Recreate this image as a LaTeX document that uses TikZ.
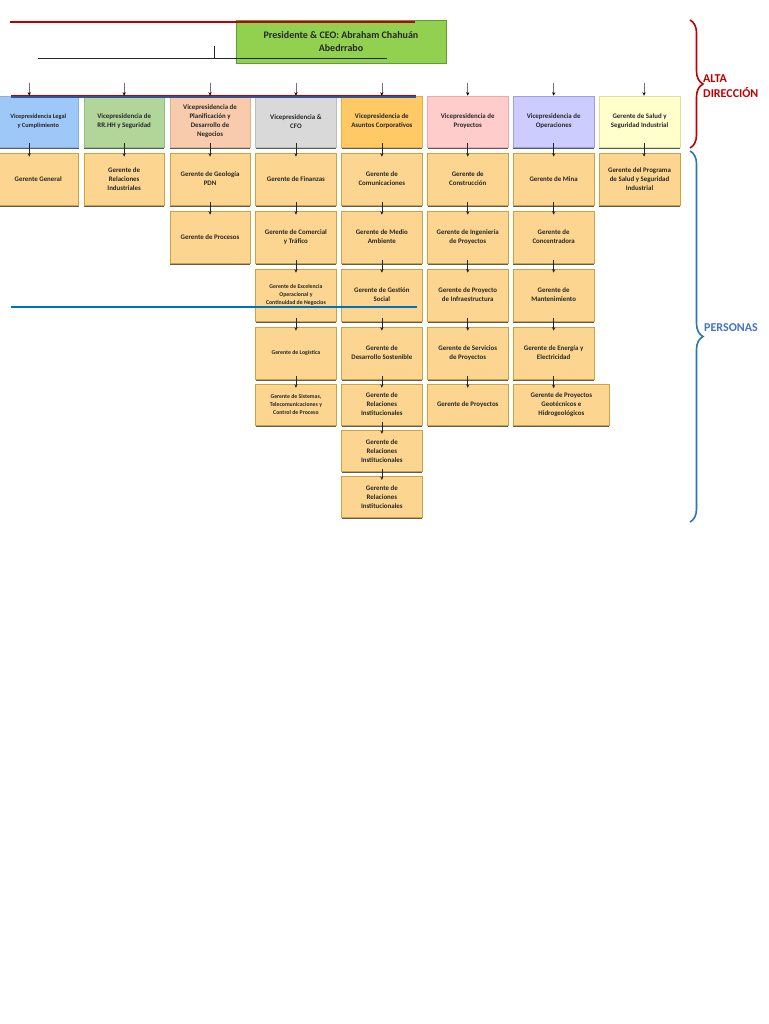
\documentclass[tikz,border=0pt]{standalone}
\usepackage{fontspec}
\setmainfont{Carlito}
\usepackage{xcolor}
\definecolor{ceofill}{HTML}{92D050}
\definecolor{ceoborder}{HTML}{5E9E2F}
\definecolor{legalfill}{HTML}{9DC8F8}
\definecolor{legalborder}{HTML}{86B2E0}
\definecolor{rrhhfill}{HTML}{B2D69A}
\definecolor{rrhhborder}{HTML}{93C078}
\definecolor{planfill}{HTML}{F8CBAD}
\definecolor{planborder}{HTML}{E2AE8C}
\definecolor{cfofill}{HTML}{D9D9D9}
\definecolor{cfoborder}{HTML}{BDBDBD}
\definecolor{corpfill}{HTML}{FFC966}
\definecolor{corpborder}{HTML}{E8AE45}
\definecolor{proyfill}{HTML}{FFCCCC}
\definecolor{proyborder}{HTML}{EFA9A9}
\definecolor{operfill}{HTML}{CCCCFF}
\definecolor{operborder}{HTML}{9E9EE6}
\definecolor{saludfill}{HTML}{FFFFCC}
\definecolor{saludborder}{HTML}{E3DC93}
\definecolor{gerfill}{HTML}{FCD690}
\definecolor{gerborder}{HTML}{C9A43F}
\definecolor{shadowcolor}{HTML}{5C5C5C}
\definecolor{altared}{HTML}{C00000}
\definecolor{personasblue}{HTML}{2E75B6}
\definecolor{personastext}{HTML}{4472C4}
\definecolor{linkblue}{HTML}{0070C0}
\definecolor{barblue}{HTML}{2F5597}
\definecolor{textdark}{HTML}{262626}
\usepackage{tikz}
\usetikzlibrary{positioning,arrows.meta,shadows,decorations.pathreplacing}
\newcommand{\gerfont}{\fontsize{6.9}{9}\selectfont\bfseries}
\newcommand{\gersmall}{\fontsize{5.8}{8}\selectfont\bfseries}
\tikzset{
    vpbox/.style={
        rectangle,
        text=textdark,
        minimum height=51pt,
        minimum width=80.5pt,
        inner sep=1pt,
        align=center,
        line width=0.6pt,
        font=\gerfont,
        drop shadow={shadow xshift=0pt, shadow yshift=-1.6pt, fill=shadowcolor, opacity=1},
    },
    gerbox/.style={
        rectangle,
        draw=gerborder,
        fill=gerfill,
        text=textdark,
        minimum height=52pt,
        minimum width=80.5pt,
        inner sep=1pt,
        align=center,
        line width=0.6pt,
        font=\gerfont,
        drop shadow={shadow xshift=0pt, shadow yshift=-1.6pt, fill=shadowcolor, opacity=1},
    },
    lowbox/.style={
        gerbox,
        minimum height=41pt,
    },
    ceobox/.style={
        rectangle,
        draw=ceoborder,
        fill=ceofill,
        text=textdark,
        minimum height=43pt,
        minimum width=210pt,
        align=center,
        line width=0.8pt,
        font=\fontsize{10}{12.5}\selectfont\bfseries,
    },
    arr/.style={
        -{Stealth[length=3.5pt,width=3.2pt]},
        line width=0.6pt,
        black!85,
    },
    toparr/.style={
        -{Stealth[length=3.5pt,width=3.2pt,black]},
        line width=0.6pt,
        black!55,
    },
    bracket/.style={
        decorate,
        decoration={brace, amplitude=13pt},
        line width=1.6pt,
    },
    grouplabel/.style={
        anchor=west,
        inner sep=0pt,
        align=left,
        font=\fontsize{12}{15}\selectfont\bfseries,
    },
}

\begin{document}
\begin{tikzpicture}[x=1pt, y=-1pt, node distance=5.4pt]
    \useasboundingbox[fill=white] (0,0) rectangle (768,1024);

    % President
    \node[ceobox] (ceo) at (341,41.5) {Presidente \& CEO: Abraham Chahuán\\Abedrrabo};

    % Lines across the top
    \coordinate (redl) at (10,22);
    \coordinate (redr) at (415,22);
    \coordinate (blackl) at (38,58);
    \coordinate (blackr) at (387,58);
    \coordinate (ticktop) at (214,46);
    \coordinate (tickbot) at (214,58);
    \draw[altared, line width=1.3pt] (redl) -- (redr);
    \draw[black!85, line width=0.8pt] (blackl) -- (blackr);
    \draw[black!85, line width=0.8pt] (ticktop) -- (tickbot);

    % Vicepresidencias
    \node[vpbox, fill=legalfill, draw=legalborder, font=\fontsize{6.3}{8.6}\selectfont\bfseries] (vp1) at (38.25,121.5) {Vicepresidencia Legal\\y Cumplimiento};
    \node[vpbox, fill=rrhhfill, draw=rrhhborder, right=4.8pt of vp1] (vp2) {Vicepresidencia de\\RR.HH y Seguridad};
    \node[vpbox, fill=planfill, draw=planborder, right=4.8pt of vp2] (vp3) {Vicepresidencia de\\Planificación y\\Desarrollo de\\Negocios};
    \node[vpbox, fill=cfofill, draw=cfoborder, right=4.8pt of vp3] (vp4) {Vicepresidencia \&\\CFO};
    \node[vpbox, fill=corpfill, draw=corpborder, right=4.8pt of vp4] (vp5) {Vicepresidencia de\\Asuntos Corporativos};
    \node[vpbox, fill=proyfill, draw=proyborder, right=4.8pt of vp5] (vp6) {Vicepresidencia de\\Proyectos};
    \node[vpbox, fill=operfill, draw=operborder, right=4.8pt of vp6] (vp7) {Vicepresidencia de\\Operaciones};
    \node[vpbox, fill=saludfill, draw=saludborder, right=4.8pt of vp7] (vp8) {Gerente de Salud y\\Seguridad Industrial};

    % Bar over the first five
    \coordinate (barl) at (11,97.2);
    \coordinate (barr) at (416,97.2);
    \coordinate (barredl) at (11,95.4);
    \coordinate (barredr) at (416,95.4);
    \draw[barblue, line width=2.6pt] (barl) -- (barr);
    \draw[altared, line width=0.7pt] (barredl) -- (barredr);

    % Gerencias, column by column
    \node[gerbox, below=of vp1] (g1a) {Gerente General};

    \node[gerbox, below=of vp2] (g2a) {Gerente de\\Relaciones\\Industriales};

    \node[gerbox, below=of vp3] (g3a) {Gerente de Geología\\PDN};
    \node[gerbox, below=of g3a] (g3b) {Gerente de Procesos};

    \node[gerbox, below=of vp4] (g4a) {Gerente de Finanzas};
    \node[gerbox, below=of g4a] (g4b) {Gerente de Comercial\\y Tráfico};
    \node[gerbox, below=of g4b, font=\gersmall] (g4c) {Gerente de Excelencia\\Operacional y\\Continuidad de Negocios};
    \node[gerbox, below=of g4c, font=\gersmall] (g4d) {Gerente de Logística};
    \node[lowbox, below=4.5pt of g4d, font=\gersmall] (g4e) {Gerente de Sistemas,\\Telecomunicaciones y\\Control de Proceso};

    \node[gerbox, below=of vp5] (g5a) {Gerente de\\Comunicaciones};
    \node[gerbox, below=of g5a] (g5b) {Gerente de Medio\\Ambiente};
    \node[gerbox, below=of g5b] (g5c) {Gerente de Gestión\\Social};
    \node[gerbox, below=of g5c] (g5d) {Gerente de\\Desarrollo Sostenible};
    \node[lowbox, below=4.5pt of g5d] (g5e) {Gerente de\\Relaciones\\Institucionales};
    \node[lowbox, below=4.5pt of g5e] (g5f) {Gerente de\\Relaciones\\Institucionales};
    \node[lowbox, below=4.5pt of g5f] (g5g) {Gerente de\\Relaciones\\Institucionales};

    \node[gerbox, below=of vp6] (g6a) {Gerente de\\Construcción};
    \node[gerbox, below=of g6a] (g6b) {Gerente de Ingeniería\\de Proyectos};
    \node[gerbox, below=of g6b] (g6c) {Gerente de Proyecto\\de Infraestructura};
    \node[gerbox, below=of g6c] (g6d) {Gerente de Servicios\\de Proyectos};
    \node[lowbox, below=4.5pt of g6d] (g6e) {Gerente de Proyectos};

    \node[gerbox, below=of vp7] (g7a) {Gerente de Mina};
    \node[gerbox, below=of g7a] (g7b) {Gerente de\\Concentradora};
    \node[gerbox, below=of g7b] (g7c) {Gerente de\\Mantenimiento};
    \node[gerbox, below=of g7c] (g7d) {Gerente de Energía y\\Electricidad};
    \node[lowbox, minimum width=96pt, anchor=north west] (g7e) at ([yshift=-5pt]g7d.south west) {Gerente de Proyectos\\Geotécnicos e\\Hidrogeológicos};

    \node[gerbox, below=of vp8] (g8a) {Gerente del Programa\\de Salud y Seguridad\\Industrial};

    % Blue line across the middle
    \coordinate (midl) at (11,307);
    \coordinate (midr) at (417,307);
    \draw[linkblue, line width=1.5pt] (midl) -- (midr);

    % Arrows into the vicepresidencias
    \draw[toparr] ([xshift=-9pt,yshift=13pt]vp1.north) -- ([xshift=-9pt]vp1.north);
    \draw[toparr] ([yshift=13pt]vp2.north) -- (vp2.north);
    \draw[toparr] ([yshift=13pt]vp3.north) -- (vp3.north);
    \draw[toparr] ([yshift=13pt]vp4.north) -- (vp4.north);
    \draw[toparr] ([yshift=13pt]vp5.north) -- (vp5.north);
    \draw[toparr] ([yshift=13pt]vp6.north) -- (vp6.north);
    \draw[toparr] ([yshift=13pt]vp7.north) -- (vp7.north);
    \draw[toparr] ([xshift=4.5pt,yshift=13pt]vp8.north) -- ([xshift=4.5pt]vp8.north);

    % Arrows down each column
    \draw[arr] ([xshift=-9pt,yshift=4pt]vp1.south) -- ([xshift=-9pt,yshift=-4pt]g1a.north);
    \draw[arr] ([yshift=4pt]vp2.south) -- ([yshift=-4pt]g2a.north);
    \draw[arr] ([yshift=4pt]vp3.south) -- ([yshift=-4pt]g3a.north);
    \draw[arr] ([yshift=3pt]g3a.south) -- ([yshift=-4pt]g3b.north);
    \draw[arr] ([yshift=4pt]vp4.south) -- ([yshift=-4pt]g4a.north);
    \draw[arr] ([yshift=3pt]g4a.south) -- ([yshift=-4pt]g4b.north);
    \draw[arr] ([yshift=3pt]g4b.south) -- ([yshift=-4pt]g4c.north);
    \draw[arr] ([yshift=3pt]g4c.south) -- ([yshift=-4pt]g4d.north);
    \draw[arr] ([yshift=3pt]g4d.south) -- ([yshift=-4pt]g4e.north);
    \draw[arr] ([yshift=4pt]vp5.south) -- ([yshift=-4pt]g5a.north);
    \draw[arr] ([yshift=3pt]g5a.south) -- ([yshift=-4pt]g5b.north);
    \draw[arr] ([yshift=3pt]g5b.south) -- ([yshift=-4pt]g5c.north);
    \draw[arr] ([yshift=3pt]g5c.south) -- ([yshift=-4pt]g5d.north);
    \draw[arr] ([yshift=3pt]g5d.south) -- ([yshift=-4pt]g5e.north);
    \draw[arr] ([yshift=3pt]g5e.south) -- ([yshift=-4pt]g5f.north);
    \draw[arr] ([yshift=3pt]g5f.south) -- ([yshift=-4pt]g5g.north);
    \draw[arr] ([yshift=4pt]vp6.south) -- ([yshift=-4pt]g6a.north);
    \draw[arr] ([yshift=3pt]g6a.south) -- ([yshift=-4pt]g6b.north);
    \draw[arr] ([yshift=3pt]g6b.south) -- ([yshift=-4pt]g6c.north);
    \draw[arr] ([yshift=3pt]g6c.south) -- ([yshift=-4pt]g6d.north);
    \draw[arr] ([yshift=3pt]g6d.south) -- ([yshift=-4pt]g6e.north);
    \draw[arr] ([yshift=4pt]vp7.south) -- ([yshift=-4pt]g7a.north);
    \draw[arr] ([yshift=3pt]g7a.south) -- ([yshift=-4pt]g7b.north);
    \draw[arr] ([yshift=3pt]g7b.south) -- ([yshift=-4pt]g7c.north);
    \draw[arr] ([yshift=3pt]g7c.south) -- ([yshift=-4pt]g7d.north);
    \draw[arr] ([yshift=3pt]g7d.south) -- ([yshift=-4pt]g7d.south |- g7e.north);
    \draw[arr] ([xshift=4.5pt,yshift=4pt]vp8.south) -- ([xshift=4.5pt,yshift=-4pt]g8a.north);

    % Braces on the right
    \coordinate (altatop) at (690,20);
    \coordinate (altabot) at (690,148);
    \coordinate (perstop) at (690,151);
    \coordinate (persbot) at (690,522);
    \draw[bracket, altared] (altatop) -- (altabot);
    \draw[bracket, personasblue] (perstop) -- (persbot);
    \node[grouplabel, text=altared] (alta) at (703,86.5) {ALTA\\DIRECCIÓN};
    \node[grouplabel, text=personastext] (personas) at (704,327.5) {PERSONAS};

\end{tikzpicture}
\end{document}
